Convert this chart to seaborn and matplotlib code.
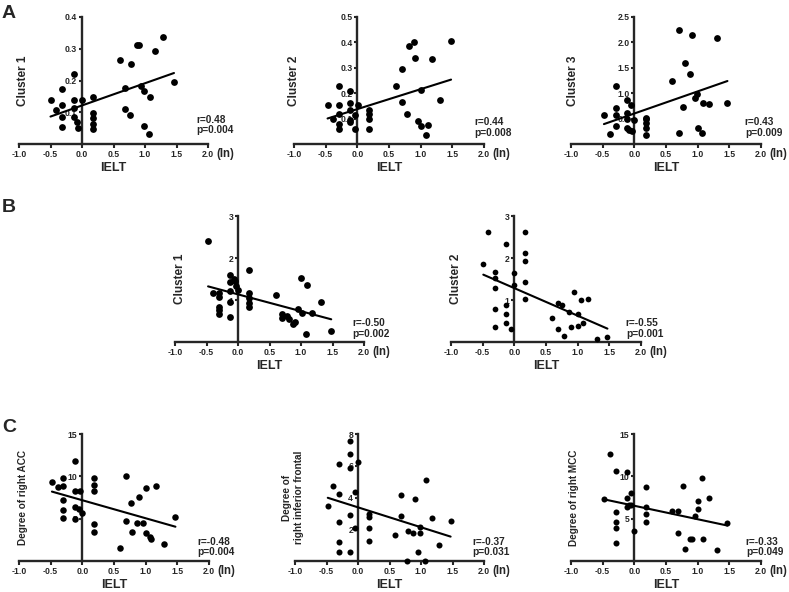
import matplotlib
matplotlib.use('Agg')
import matplotlib.pyplot as plt
import seaborn as sns

sns.set_style('ticks')
plt.rcParams['font.family'] = ['Liberation Sans', 'DejaVu Sans']
plt.rcParams['font.weight'] = 'bold'

# ---- data (x = IELT, ln) ----
a1_x = [-0.5, -0.41, -0.32, -0.32, -0.32, -0.32, -0.13, -0.13, -0.13, -0.13, -0.08, -0.06, 0.0,
        0.17, 0.17, 0.17, 0.17, 0.17, 0.6, 0.68, 0.68, 0.76, 0.78, 0.87, 0.9, 0.94, 0.99, 0.99,
        1.08, 1.06, 1.16, 1.28, 1.46]
a1_y = [0.138, 0.108, 0.174, 0.122, 0.085, 0.055, 0.219, 0.138, 0.113, 0.085, 0.069, 0.05, 0.138,
        0.147, 0.097, 0.083, 0.063, 0.046, 0.265, 0.177, 0.109, 0.09, 0.253, 0.313, 0.313, 0.182,
        0.167, 0.058, 0.148, 0.03, 0.293, 0.338, 0.196]

a2_x = [-0.47, -0.39, -0.29, -0.29, -0.29, -0.29, -0.29, -0.12, -0.12, -0.12, -0.12, -0.11, -0.04,
        -0.04, 0.01, 0.19, 0.19, 0.19, 0.19, 0.61, 0.71, 0.71, 0.79, 0.81, 0.89, 0.91, 0.96, 1.0,
        1.01, 1.09, 1.11, 1.18, 1.31, 1.48]
a2_y = [0.152, 0.10, 0.227, 0.152, 0.12, 0.077, 0.061, 0.208, 0.16, 0.133, 0.094, 0.088, 0.061,
        0.114, 0.152, 0.133, 0.118, 0.10, 0.058, 0.227, 0.295, 0.166, 0.118, 0.384, 0.401, 0.34,
        0.092, 0.212, 0.072, 0.037, 0.075, 0.335, 0.173, 0.405]

a3_x = [-0.48, -0.39, -0.29, -0.29, -0.29, -0.29, -0.12, -0.12, -0.12, -0.12, -0.09, -0.05, -0.04,
        0.0, 0.18, 0.18, 0.18, 0.18, 0.18, 0.6, 0.77, 0.7, 0.7, 0.8, 0.88, 0.91, 0.96, 0.99, 1.0,
        1.07, 1.09, 1.18, 1.3, 1.47]
a3_y = [0.57, 0.19, 0.71, 0.57, 0.35, 1.15, 0.86, 0.62, 0.49, 0.31, 0.27, 0.77, 0.25, 0.47, 0.52,
        0.49, 0.42, 0.31, 0.17, 1.25, 0.72, 2.24, 0.21, 1.6, 1.37, 2.14, 0.9, 0.99, 0.31, 0.22,
        0.8, 0.78, 2.09, 0.8]

b1_x = [-0.475, -0.39, -0.3, -0.3, -0.3, -0.3, -0.3, -0.13, -0.13, -0.13, -0.13, -0.13, -0.07,
        -0.04, -0.03, 0.0, 0.18, 0.18, 0.18, 0.18, 0.18, 0.6, 0.7, 0.7, 0.78, 0.81, 0.88, 0.91,
        0.96, 1.0, 1.01, 1.08, 1.1, 1.18, 1.31, 1.48]
b1_y = [2.40, 1.17, 1.17, 1.08, 0.83, 0.76, 0.66, 1.59, 1.43, 1.21, 0.96, 0.6, 1.49, 1.46, 1.33,
        1.24, 1.71, 1.16, 1.04, 0.92, 0.84, 1.12, 0.66, 0.56, 0.62, 0.54, 0.43, 0.48, 0.78, 1.52,
        0.69, 0.19, 1.36, 0.69, 0.96, 0.26]

b2_x = [-0.49, -0.41, -0.31, -0.31, -0.31, -0.31, -0.31, -0.13, -0.13, -0.13, -0.13, -0.06, -0.01,
        -0.01, 0.17, 0.17, 0.17, 0.17, 0.17, 0.59, 0.69, 0.69, 0.76, 0.79, 0.86, 0.89, 0.94, 1.0,
        1.0, 1.06, 1.09, 1.17, 1.3, 1.47]
b2_y = [1.86, 2.61, 1.66, 1.52, 1.29, 0.78, 0.36, 2.34, 0.87, 0.66, 0.45, 0.31, 1.65, 1.35, 2.61,
        2.13, 1.94, 1.43, 1.03, 0.57, 0.94, 0.31, 0.87, 0.15, 0.72, 0.35, 1.19, 0.66, 0.39, 0.99,
        0.46, 1.02, 0.06, 0.13]

c1_x = [-0.48, -0.39, -0.3, -0.3, -0.3, -0.3, -0.3, -0.12, -0.12, -0.12, -0.12, -0.05, -0.04, 0.0,
        0.18, 0.18, 0.18, 0.18, 0.18, 0.6, 0.69, 0.69, 0.77, 0.79, 0.86, 0.9, 0.95, 1.0, 1.0, 1.07,
        1.09, 1.17, 1.29, 1.47]
c1_y = [9.29, 8.7, 9.8, 8.9, 7.24, 6.06, 5.08, 11.85, 8.3, 6.34, 4.96, 6.14, 8.3, 5.67, 9.8, 9.0,
        8.23, 4.4, 3.39, 1.54, 10.0, 4.69, 6.85, 3.43, 4.45, 7.52, 4.45, 8.62, 3.31, 2.83, 2.64,
        8.9, 2.0, 5.16]

c2_x = [-0.48, -0.39, -0.3, -0.3, -0.3, -0.3, -0.3, -0.13, -0.13, -0.13, -0.13, -0.13, -0.05, -0.04,
        0.0, 0.17, 0.17, 0.17, 0.17, 0.59, 0.69, 0.69, 0.77, 0.79, 0.87, 0.9, 0.95, 0.99, 0.99,
        1.08, 1.07, 1.17, 1.29, 1.47]
c2_y = [3.45, 4.72, 6.12, 4.21, 2.46, 1.18, 0.55, 2.88, 7.53, 6.72, 5.84, 0.55, 4.36, 2.09, 6.26,
        2.98, 2.77, 2.09, 1.29, 1.65, 4.14, 2.83, 0.0, 1.88, 1.78, 3.89, 0.55, 2.14, 1.78, 5.1,
        0.0, 2.73, 1.01, 2.49]

c3_x = [-0.48, -0.39, -0.29, -0.29, -0.29, -0.29, -0.29, -0.12, -0.12, -0.12, -0.09, -0.05, -0.05,
        0.0, 0.18, 0.18, 0.18, 0.18, 0.6, 0.69, 0.69, 0.77, 0.8, 0.88, 0.91, 0.96, 1.0, 1.0, 1.07,
        1.09, 1.18, 1.3, 1.47]
c3_y = [7.27, 12.65, 10.67, 5.73, 4.55, 3.87, 2.09, 10.47, 7.43, 6.32, 6.64, 8.02, 6.6, 3.56, 8.77,
        6.32, 5.53, 4.66, 5.93, 5.93, 3.36, 8.89, 1.38, 2.57, 2.57, 5.26, 7.11, 6.13, 9.76, 2.57,
        7.43, 1.26, 4.47]

xticks = [-1.0, -0.5, 0.0, 0.5, 1.0, 1.5, 2.0]
xticklabels = ['-1.0', '-0.5', '0.0', '0.5', '1.0', '1.5', '2.0']

# (x, y, ylabel, yticks, yticklabels, ylim_top, stats, box in px: left, top, right, bottom,
#  ylabel x, stats x, stats y, marker size)
panels = [
    (a1_x, a1_y, 'Cluster 1', [0.1, 0.2, 0.3, 0.4], ['0.1', '0.2', '0.3', '0.4'], 0.4,
     'r=0.48\np=0.004', (19, 17, 208, 144), 0.02, 0.94, 0.15, 24),
    (a2_x, a2_y, 'Cluster 2', [0.1, 0.2, 0.3, 0.4, 0.5], ['0.1', '0.2', '0.3', '0.4', '0.5'], 0.5,
     'r=0.44\np=0.008', (294, 17, 484, 144), 0.0, 0.95, 0.13, 24),
    (a3_x, a3_y, 'Cluster 3', [0.5, 1.0, 1.5, 2.0, 2.5], ['0.5', '1.0', '1.5', '2.0', '2.5'], 2.5,
     'r=0.43\np=0.009', (571, 17, 761, 144), 0.01, 0.915, 0.13, 24),
    (b1_x, b1_y, 'Cluster 1', [1, 2, 3], ['1', '2', '3'], 3,
     'r=-0.50\np=0.002', (175, 216, 364, 342), 0.026, 0.937, 0.11, 24),
    (b2_x, b2_y, 'Cluster 2', [1, 2, 3], ['1', '2', '3'], 3,
     'r=-0.55\np=0.001', (451, 216, 641, 342), 0.026, 0.92, 0.11, 17),
    (c1_x, c1_y, 'Degree of right ACC', [5, 10, 15], ['5', '10', '15'], 15,
     'r=-0.48\np=0.004', (19, 434, 209, 561), 0.02, 0.94, 0.11, 22),
    (c2_x, c2_y, 'Degree of\nright inferior frontal', [2, 4, 6, 8], ['2', '4', '6', '8'], 8,
     'r=-0.37\np=0.031', (295, 434, 484, 561), -0.01, 0.94, 0.11, 19),
    (c3_x, c3_y, 'Degree of right MCC', [5, 10, 15], ['5', '10', '15'], 15,
     'r=-0.33\np=0.049', (571, 434, 761, 561), 0.016, 0.92, 0.11, 19),
]

W, H = 789, 592
fig = plt.figure(figsize=(W / 100, H / 100), dpi=100)

for x, y, ylab, yt, ytl, ytop, stats, box, ylx, sx, sy, msize in panels:
    l, t, r, b = box
    ax = fig.add_axes([l / W, 1 - b / H, (r - l) / W, (b - t) / H])
    sns.regplot(x=x, y=y, ax=ax, ci=None, color='black',
                scatter_kws=dict(s=msize, zorder=3, clip_on=False, linewidths=0, alpha=1),
                line_kws=dict(lw=1.5, zorder=4))
    ax.set_xlim(-1, 2)
    ax.set_ylim(0, ytop)
    ax.spines['left'].set_position(('data', 0))
    ax.spines['top'].set_visible(False)
    ax.spines['right'].set_visible(False)
    for s in ['left', 'bottom']:
        ax.spines[s].set_linewidth(1.7)
    ax.set_xticks(xticks)
    ax.set_xticklabels(xticklabels)
    ax.set_yticks(yt)
    ax.set_yticklabels(ytl)
    ax.tick_params(axis='x', direction='out', length=3, width=1.5, labelsize=6.2, pad=1.5)
    ax.tick_params(axis='y', direction='out', length=2.5, width=1.5, labelsize=6.2, pad=1)
    for lab in ax.get_xticklabels() + ax.get_yticklabels():
        lab.set_fontweight('bold')
    ax.set_xlabel('')
    ax.set_ylabel('')
    fs = 8.5 if ylab.startswith('Cluster') else 7.2
    ax.text(ylx, 0.5, ylab, transform=ax.transAxes, rotation=90, ha='center', va='center',
            fontsize=fs, fontweight='bold', linespacing=1.3)
    ax.text(0.5, -0.19, 'IELT', transform=ax.transAxes, ha='center', va='center',
            fontsize=9, fontweight='bold')
    ax.text(1.045, -0.08, '(In)', transform=ax.transAxes, ha='left', va='center',
            fontsize=8.3, fontweight='bold')
    ax.text(sx, sy, stats, transform=ax.transAxes, ha='left', va='center',
            fontsize=7.3, fontweight='bold', linespacing=1.1)
    ax.patch.set_alpha(0)

fig.text(9 / W, 1 - 13 / H, 'A', fontsize=14, fontweight='bold', ha='center', va='center')
fig.text(9 / W, 1 - 207 / H, 'B', fontsize=14, fontweight='bold', ha='center', va='center')
fig.text(9 / W, 1 - 427 / H, 'C', fontsize=14, fontweight='bold', ha='center', va='center')

fig.savefig('out.png', dpi=100, facecolor='white')
